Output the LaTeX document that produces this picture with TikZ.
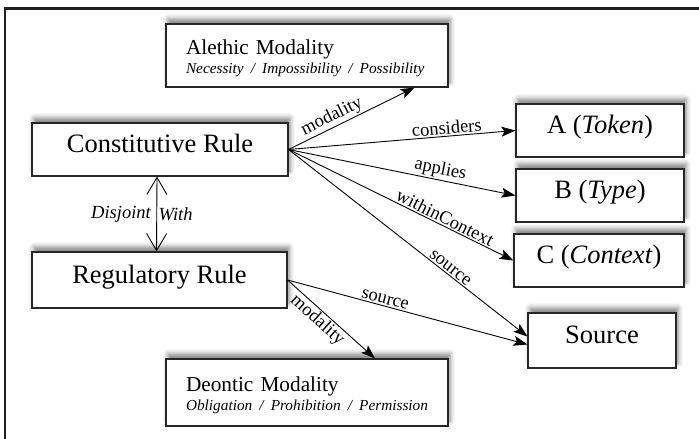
\documentclass[tikz,border=0pt]{standalone}
\usepackage{fontspec}
\setmainfont{Liberation Serif}
\usetikzlibrary{arrows.meta,calc,shadows.blur}
\newcommand\modsubfont{\fontsize{15.3}{19}\selectfont\itshape}
\newcommand\modstrut{\rule{0pt}{20.5pt}}
\begin{document}
\begin{tikzpicture}[x=1pt,y=-1pt,
  box/.style={draw=black!85,line width=1.1pt,fill=white,rectangle,inner sep=0pt,
     blur shadow={shadow xshift=2pt,shadow yshift=5pt,shadow blur radius=5pt,shadow opacity=50}},
  big/.style={font=\fontsize{26.5}{30}\selectfont,text height=0.69em,text depth=0pt},
  modal/.style={align=left,text width=242pt,font=\fontsize{21.3}{19}\selectfont},
  rel/.style={line width=0.9pt,-{Stealth[length=14pt,width=10pt,inset=3pt]}},
  lab/.style={font=\fontsize{18.5}{20}\selectfont,sloped,inner sep=1.5pt},
  barb/.style={line width=0.9pt,{Straight Barb[length=17pt,width=20pt]}-{Straight Barb[length=17pt,width=20pt]}},
  ilab/.style={font=\fontsize{18.5}{20}\selectfont\itshape,inner sep=1.5pt},
]
\useasboundingbox (0,0) rectangle (699,439);
\draw[line width=2.6pt,black!88] (5,440) -- (5,8.5) -- (700,8.5);

\node[box,big,minimum width=256pt,minimum height=53pt] (cr) at (160,149.5) {Constitutive Rule};
\node[box,big,minimum width=255pt,minimum height=56pt] (rr) at (159.5,280) {Regulatory Rule};
\node[box,big,minimum width=168pt,minimum height=53pt] (a) at (600,130.5) {A (\textit{Token})};
\node[box,big,minimum width=168pt,minimum height=53pt] (b) at (600,195.5) {B (\textit{Type})};
\node[box,big,minimum width=170pt,minimum height=53pt] (c) at (599,260.5) {C (\textit{Context})};
\node[box,big,minimum width=148pt,minimum height=55pt] (src) at (602,340.5) {Source};
\node[box,modal,minimum width=282pt,minimum height=63pt] (al) at (307,55.5)
  {\modstrut Alethic Modality\\\mbox{\modsubfont Necessity / Impossibility / Possibility}};
\node[box,modal,minimum width=282pt,minimum height=67pt] (de) at (307,392.5)
  {\modstrut Deontic Modality\\\mbox{\modsubfont Obligation / Prohibition / Permission}};

\draw[rel] (cr.east) -- node[lab,above,pos=0.38]{modality} ($(al.south west)!0.88!(al.south east)$);
\draw[rel] (cr.east) -- node[lab,above,pos=0.7]{considers} (a.west);
\draw[rel] (cr.east) -- node[lab,above,pos=0.66]{applies} (b.west);
\draw[rel] (cr.east) -- node[lab,above,pos=0.68]{withinContext} (c.west);
\draw[rel] (cr.east) -- node[lab,above,pos=0.66]{source} ([yshift=4pt]src.west);
\draw[rel] (rr.east) -- node[lab,above,pos=0.4]{source} ([yshift=-4pt]src.west);
\draw[rel] (rr.east) -- node[lab,below,pos=0.42]{modality} ($(de.north west)!0.74!(de.north east)$);
\draw[barb] ([xshift=-3pt]cr.south) -- node[ilab,left,xshift=-4pt]{Disjoint} node[ilab,right]{With} ([xshift=-3pt]rr.north);
\end{tikzpicture}
\end{document}
